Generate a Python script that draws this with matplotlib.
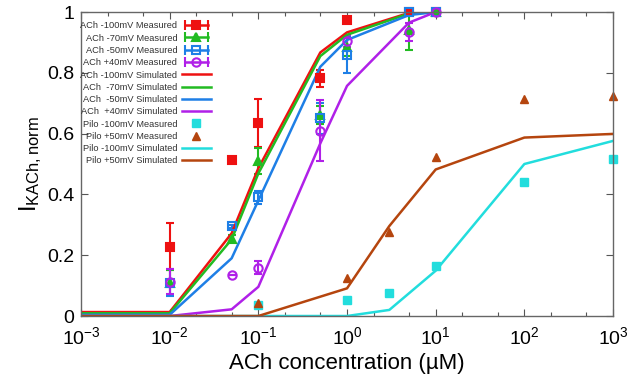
import matplotlib
matplotlib.use("Agg")
import matplotlib.pyplot as plt
from matplotlib.ticker import FixedLocator, NullFormatter, LogFormatterSciNotation
from matplotlib.lines import Line2D
from matplotlib.legend_handler import HandlerLine2D, HandlerTuple

plt.rcParams['font.family'] = ['Liberation Sans', 'DejaVu Sans']
plt.rcParams['mathtext.fontset'] = 'custom'
plt.rcParams['mathtext.rm'] = 'Liberation Sans'
plt.rcParams['mathtext.it'] = 'Liberation Sans'

# Measured ACh data
ach_x = [0.01, 0.05, 0.1, 0.5, 1, 5, 10]
ach100_y = [0.228, 0.513, 0.634, 0.782, 0.974, 1.0, 1.0]
ach100_e = [0.078, 0.0, 0.079, 0.028, 0.0, 0.0, 0.0]
ach70_y = [0.11, 0.254, 0.51, 0.66, 0.886, 0.94, 1.0]
ach70_e = [0.04, 0.012, 0.044, 0.03, 0.03, 0.065, 0.0]
ach50_y = [0.11, 0.296, 0.39, 0.65, 0.859, 1.0, 1.0]
ach50_e = [0.045, 0.005, 0.022, 0.05, 0.06, 0.0, 0.0]
ach40_y = [0.113, 0.135, 0.159, 0.61, 0.905, 0.935, 1.0]
ach40_e = [0.04, 0.0, 0.022, 0.1, 0.02, 0.03, 0.0]

# Measured Pilo data
pilo_x = [0.1, 1, 3, 10, 100, 1000]
pilo100_y = [0.036, 0.053, 0.077, 0.166, 0.442, 0.515]
pilo50_y = [0.042, 0.126, 0.275, 0.524, 0.713, 0.724]

# Simulated ACh
sim_ach_x = [0.001, 0.01, 0.05, 0.1, 0.5, 1, 5, 10]
sim100 = [0.013, 0.013, 0.272, 0.486, 0.867, 0.933, 0.997, 1.0]
sim70 = [0.009, 0.009, 0.252, 0.469, 0.855, 0.925, 0.995, 1.0]
sim50 = [0.004, 0.004, 0.19, 0.38, 0.82, 0.908, 0.99, 1.0]
sim40 = [0.0, 0.0, 0.022, 0.096, 0.568, 0.757, 0.965, 1.0]

# Simulated Pilo
sim_pilo_x = [0.001, 0.01, 0.1, 1, 3, 10, 100, 1000]
simp100 = [0.0, 0.0, 0.0, 0.0, 0.02, 0.149, 0.5, 0.576]
simp50 = [0.0, 0.0, 0.0, 0.091, 0.296, 0.482, 0.587, 0.599]

labels = ['ACh -100mV Measured', 'ACh -70mV Measured', 'ACh -50mV Measured', 'ACh +40mV Measured',
          'ACh -100mV Simulated', 'ACh  -70mV Simulated', 'ACh  -50mV Simulated', 'ACh  +40mV Simulated',
          'Pilo -100mV Measured', 'Pilo +50mV Measured', 'Pilo -100mV Simulated', 'Pilo +50mV Simulated']

x_major = [1e-3, 1e-2, 1e-1, 1e0, 1e1, 1e2, 1e3]
y_ticks = [0, 0.2, 0.4, 0.6, 0.8, 1.0]
y_ticklabels = ['0', '0.2', '0.4', '0.6', '0.8', '1']

RED = '#ee1111'
GREEN = '#22bb22'
BLUE = '#1e7fe6'
PURPLE = '#b020e8'
CYAN = '#22dddd'
BROWN = '#b5450e'

fig = plt.figure(figsize=(6.44, 3.79), dpi=100)
ax = fig.add_axes([0.1258, 0.1662, 0.8261, 0.8021])

meas = [(ach100_y, ach100_e, RED, 's', RED),
        (ach70_y, ach70_e, GREEN, '^', GREEN),
        (ach50_y, ach50_e, BLUE, 's', 'none'),
        (ach40_y, ach40_e, PURPLE, 'o', 'none')]
handles = []
handler_map = {}
for y, e, c, m, fc in meas:
    eb = ax.errorbar(ach_x, y, yerr=e, color=c, marker=m, ms=6, mfc=fc, mew=1.5, lw=0,
                     elinewidth=1.5, capsize=3)
    eb.lines[0].set_clip_on(False)
    cap = Line2D([], [], color=c, lw=1.8, marker='|', ms=7, mew=1.5)
    mk = Line2D([], [], color=c, lw=0, marker=m, ms=6, mfc=fc, mew=1.5)
    handler_map[cap] = HandlerLine2D(numpoints=2)
    handler_map[mk] = HandlerLine2D(numpoints=1)
    handles.append((cap, mk))

for y, c in [(sim100, RED), (sim70, GREEN), (sim50, BLUE), (sim40, PURPLE)]:
    ln, = ax.plot(sim_ach_x, y, color=c, lw=1.8)
    handles.append(ln)

p1, = ax.plot(pilo_x, pilo100_y, color=CYAN, marker='s', ms=6, lw=0, clip_on=False)
p2, = ax.plot(pilo_x, pilo50_y, color=BROWN, marker='^', ms=6, lw=0, clip_on=False)
s1, = ax.plot(sim_pilo_x, simp100, color=CYAN, lw=1.8)
s2, = ax.plot(sim_pilo_x, simp50, color=BROWN, lw=1.8)
handles += [p1, p2, s1, s2]

ax.set_xscale('log')
ax.set_xlim(1e-3, 1e3)
ax.set_ylim(0, 1)
ax.xaxis.set_major_locator(FixedLocator(x_major))
ax.xaxis.set_major_formatter(LogFormatterSciNotation())
minor = [d * s for d in x_major[:-1] for s in (2.0, 5.0)]
ax.xaxis.set_minor_locator(FixedLocator(minor))
ax.xaxis.set_minor_formatter(NullFormatter())
ax.set_yticks(y_ticks)
ax.set_yticklabels(y_ticklabels)

ax.tick_params(which='both', direction='in', top=True, right=True, labelsize=14, color='#555555')
ax.tick_params(axis='x', which='major', pad=7)
ax.tick_params(axis='y', which='major', pad=5)
ax.tick_params(which='major', length=5, width=0.8)
ax.tick_params(which='minor', length=3, width=0.8)
for s in ax.spines.values():
    s.set_color('#666666')
    s.set_linewidth(1.0)

ax.set_xlabel('ACh concentration (\u00b5M)', fontsize=16, labelpad=4)
ax.set_ylabel(r'$\mathrm{I}_{\mathrm{KACh,norm}}$', fontsize=17, labelpad=2)

leg = ax.legend(handles, labels, handler_map={**handler_map, tuple: HandlerTuple(ndivide=1, pad=0)},
                loc='upper left', bbox_to_anchor=(-0.005, 0.975), borderaxespad=0, frameon=False,
                fontsize=6.7, markerfirst=False, labelspacing=0.35, handlelength=3.1,
                handletextpad=0.5, borderpad=0.2)
for t in leg.get_texts():
    t.set_color('#333333')

fig.savefig('out.png', dpi=100)
